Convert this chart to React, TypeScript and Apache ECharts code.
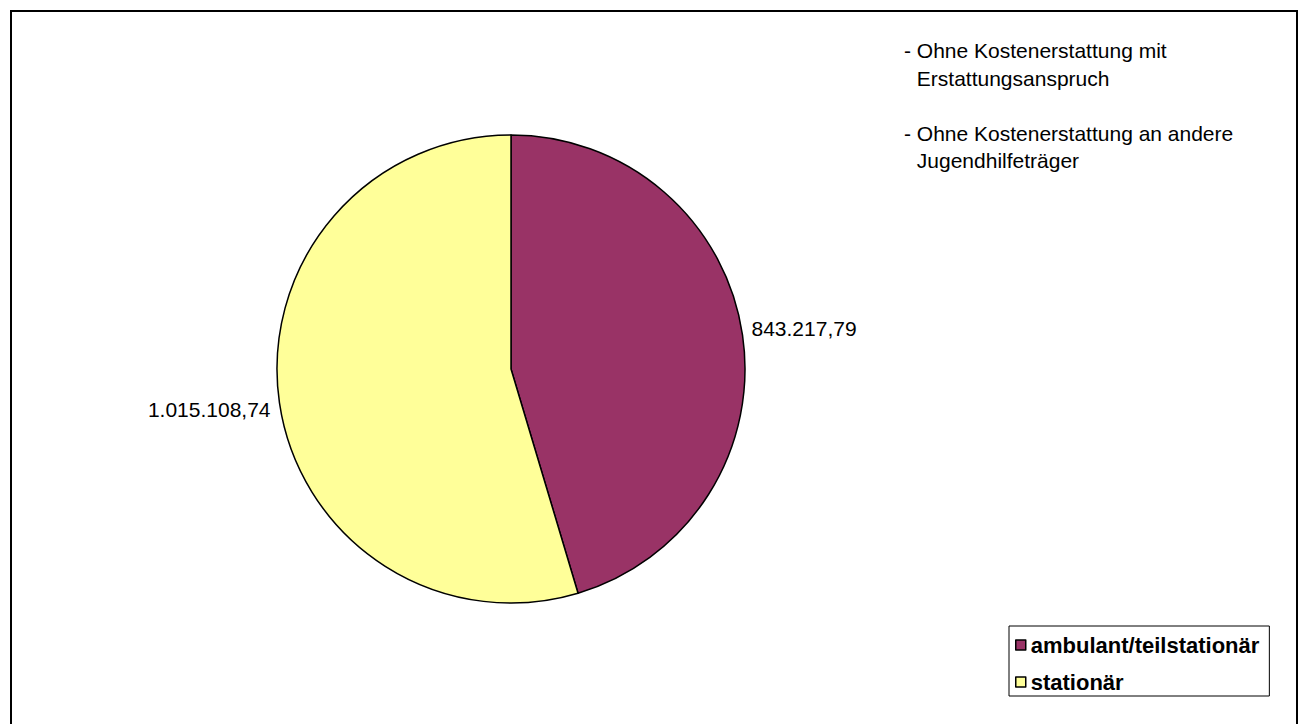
import React, { useEffect, useRef } from "react";
import * as echarts from "echarts";

const categories = ["ambulant/teilstationär", "stationär"];
const values = [843217.79, 1015108.74];
const colors = ["#993366", "#FFFF99"];
const noteLines = [
  "- Ohne Kostenerstattung mit",
  "  Erstattungsanspruch",
  "",
  "- Ohne Kostenerstattung an andere",
  "  Jugendhilfeträger",
];

const FONT = "'Liberation Sans', Arial, Helvetica, sans-serif";

function fmtDe(v: number): string {
  const [i, d] = v.toFixed(2).split(".");
  return i.replace(/\B(?=(\d{3})+(?!\d))/g, ".") + "," + d;
}

export default function App() {
  const ref = useRef<HTMLDivElement>(null);
  useEffect(() => {
    document.body.style.margin = "0";
    const chart = echarts.init(ref.current!, null, { renderer: "svg" });
    const dashW = 12.8;
    const noteTexts: any[] = [];
    let y = 40;
    noteLines.forEach((line) => {
      if (line.length) {
        const indent = line.startsWith("  ");
        noteTexts.push({
          type: "text",
          left: 904 + (indent ? dashW : 0),
          top: y,
          style: {
            text: indent ? line.trim() : line,
            font: `21px ${FONT}`,
            fill: "#000",
          },
        });
      }
      y += 27.5;
    });
    chart.setOption({
      animation: false,
      backgroundColor: "#fff",
      textStyle: { fontFamily: FONT },
      legend: {
        orient: "vertical",
        left: 1009,
        top: 626,
        data: categories,
        icon: "rect",
        itemWidth: 10,
        itemHeight: 10,
        itemGap: 13,
        padding: [7, 10, 2, 6],
        borderColor: "#000",
        borderWidth: 1,
        itemStyle: { borderColor: "#000", borderWidth: 1.5 },
        textStyle: {
          fontSize: 22,
          fontWeight: "bold",
          color: "#000",
          fontFamily: FONT,
          lineHeight: 24,
        },
      },
      graphic: [
        {
          type: "rect",
          shape: { x: 11, y: 11, width: 1286, height: 730 },
          style: { fill: "none", stroke: "#000", lineWidth: 2 },
          silent: true,
        },
        ...noteTexts,
      ],
      series: [
        {
          type: "pie",
          center: [511, 369],
          radius: 234,
          startAngle: 90,
          clockwise: true,
          avoidLabelOverlap: false,
          data: categories.map((name, i) => ({
            name,
            value: values[i],
            itemStyle: { color: colors[i] },
          })),
          itemStyle: { borderColor: "#000", borderWidth: 1.5 },
          emphasis: { disabled: true },
          label: {
            show: true,
            position: "outside",
            formatter: (p: any) => fmtDe(p.value),
            fontSize: 21,
            color: "#000",
            fontFamily: FONT,
          },
          labelLine: { show: false, length: 4, length2: 0 },
          labelLayout: (p: any) => ({ dy: p.dataIndex === 0 ? -6 : 6 }),
        },
      ],
    });
    return () => chart.dispose();
  }, []);
  return (
    <div
      ref={ref}
      style={{ position: "fixed", left: 0, top: 0, width: 1300, height: 724 }}
    />
  );
}
